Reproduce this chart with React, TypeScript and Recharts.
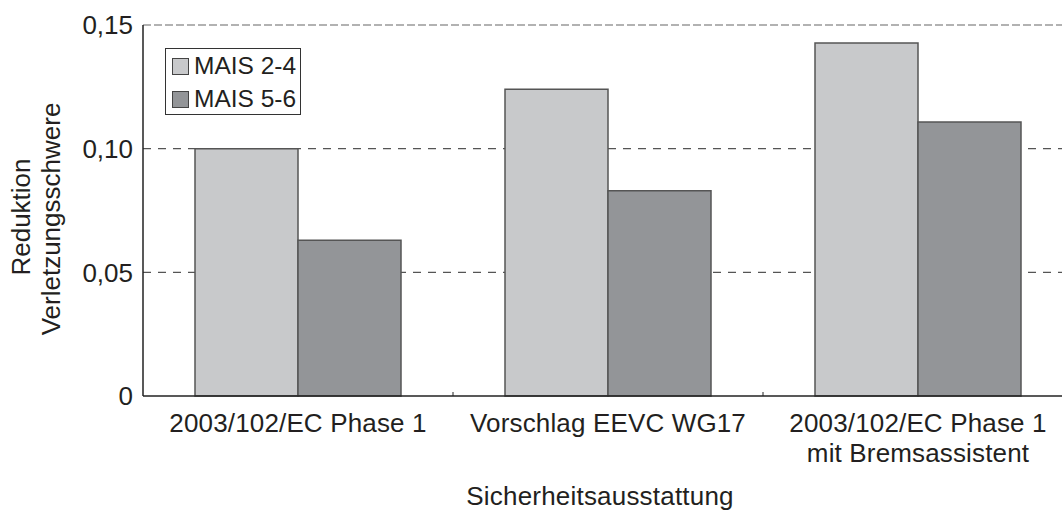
import React from "react";
import {
  BarChart,
  Bar,
  XAxis,
  YAxis,
  CartesianGrid,
  ReferenceLine,
} from "recharts";

const categories = [
  "2003/102/EC Phase 1",
  "Vorschlag EEVC WG17",
  "2003/102/EC Phase 1\nmit Bremsassistent",
];
const mais24 = [0.1, 0.124, 0.1427];
const mais56 = [0.063, 0.083, 0.1108];
const yTicks = [0, 0.05, 0.1, 0.15];
const seriesNames = ["MAIS 2-4", "MAIS 5-6"];
const seriesColors = ["#c8c9cb", "#939598"];

const data = categories.map((c, i) => ({ cat: c, a: mais24[i], b: mais56[i] }));

const FONT = "'Liberation Sans', Arial, Helvetica, sans-serif";
const TXT = "#231f20";
const FS = 26;

const fmt = (v: number) => (v === 0 ? "0" : v.toFixed(2).replace(".", ","));

const XTick = (props: any) => {
  const { x, y, payload, index } = props;
  const lines = String(payload.value).split("\n");
  const off = payload && typeof payload.offset === "number" ? payload.offset : 0;
  return (
    <g>
      {index < categories.length - 1 && off > 0 ? (
        <line x1={x + off} x2={x + off} y1={y - 4} y2={y} stroke="#222" strokeWidth={1} />
      ) : null}
      <text
        x={x}
        y={y}
        textAnchor="middle"
        fontFamily={FONT}
        fontSize={FS}
        letterSpacing={0.15}
        fill={TXT}
      >
        {lines.map((l, i) => (
          <tspan key={i} x={x} dy={i === 0 ? 36 : 30}>
            {l}
          </tspan>
        ))}
      </text>
    </g>
  );
};

const LegendBox = () => (
  <div
    style={{
      position: "absolute",
      left: 165,
      top: 48,
      width: 134,
      height: 65,
      border: "1.5px solid #333",
      background: "#fff",
      fontFamily: FONT,
      fontSize: 24.5,
      color: TXT,
      boxSizing: "content-box",
    }}
  >
    {seriesNames.map((n, i) => (
      <div
        key={n}
        style={{
          position: "absolute",
          left: 6,
          top: 7 + i * 33,
          display: "flex",
          alignItems: "center",
          height: 20,
          whiteSpace: "nowrap",
        }}
      >
        <span
          style={{
            display: "inline-block",
            width: 15,
            height: 15,
            background: seriesColors[i],
            border: "1.2px solid #444",
            marginRight: 5,
          }}
        />
        <span style={{ lineHeight: "20px" }}>{n}</span>
      </div>
    ))}
  </div>
);

export default function App() {
  return (
    <div
      style={{
        position: "fixed",
        left: 0,
        top: 0,
        width: 1062,
        height: 510,
        overflow: "hidden",
        background: "#fff",
      }}
    >
      <BarChart
        width={1074}
        height={510}
        data={data}
        margin={{ top: 25, right: 1, left: 0, bottom: 0 }}
        barGap={0}
        barCategoryGap={52}
      >
        <CartesianGrid
          vertical={false}
          horizontalValues={[0.05, 0.1]}
          stroke="#555"
          strokeDasharray="8 7"
          strokeWidth={1.2}
        />
        <ReferenceLine y={0.15} stroke="#666" strokeDasharray="8 3" strokeWidth={1.2} />
        <XAxis
          dataKey="cat"
          height={114}
          tickSize={0}
          tickMargin={0}
          tickLine={false}
          axisLine={{ stroke: "#222", strokeWidth: 1.5 }}
          tick={<XTick />}
          interval={0}
          label={{
            content: () => (
              <text
                x={600}
                y={505}
                textAnchor="middle"
                fontFamily={FONT}
                fontSize={FS}
                letterSpacing={0.2}
                fill={TXT}
              >
                Sicherheitsausstattung
              </text>
            ),
          }}
        />
        <YAxis
          width={143}
          domain={[0, 0.15]}
          ticks={yTicks}
          tickFormatter={fmt}
          tickSize={0}
          tickMargin={10}
          tickLine={false}
          axisLine={{ stroke: "#222", strokeWidth: 1.5 }}
          tick={{ fontFamily: FONT, fontSize: FS, fill: TXT }}
          label={{
            content: () => (
              <g fontFamily={FONT} fontSize={FS} fill={TXT}>
                <text x={30} y={217} textAnchor="middle" transform="rotate(-90, 30, 217)">
                  Reduktion
                </text>
                <text x={60} y={219} textAnchor="middle" transform="rotate(-90, 60, 219)">
                  Verletzungsschwere
                </text>
              </g>
            ),
          }}
        />
        <Bar
          dataKey="a"
          name={seriesNames[0]}
          fill={seriesColors[0]}
          stroke="#555"
          strokeWidth={1.5}
          barSize={103}
          isAnimationActive={false}
        />
        <Bar
          dataKey="b"
          name={seriesNames[1]}
          fill={seriesColors[1]}
          stroke="#555"
          strokeWidth={1.5}
          barSize={103}
          isAnimationActive={false}
        />
      </BarChart>
      <LegendBox />
    </div>
  );
}
